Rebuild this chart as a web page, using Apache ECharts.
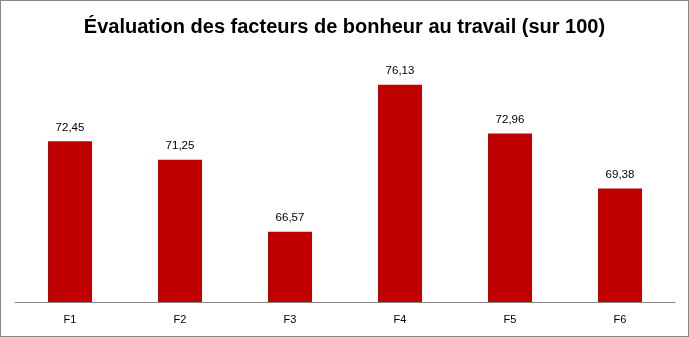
<!DOCTYPE html>
<html><head><meta charset="utf-8">
<script src="https://cdn.jsdelivr.net/npm/echarts@6/dist/echarts.min.js"></script>
<style>html,body{margin:0;padding:0;background:#fff}#c{width:689px;height:337px;box-sizing:border-box;border:1px solid #898989}</style>
</head><body><div id="c"></div>
<script>
const categories = ['F1','F2','F3','F4','F5','F6'];
const values = [72.45, 71.25, 66.57, 76.13, 72.96, 69.38];
const titleText = 'Évaluation des facteurs de bonheur au travail (sur 100)';
const chart = echarts.init(document.getElementById('c'));
chart.setOption({
  animation: false,
  title: {
    text: titleText, left: 'center', top: 11,
    textStyle: {fontFamily: 'Liberation Sans', fontWeight: 'bold', fontSize: 20, color: '#000'}
  },
  grid: {left: 14, right: 13, top: 55, bottom: 34},
  xAxis: {
    type: 'category', data: categories,
    axisLine: {lineStyle: {color: '#868686', width: 1}},
    axisTick: {show: false},
    axisLabel: {fontFamily: 'Liberation Sans', fontSize: 11, color: '#000', margin: 12}
  },
  yAxis: {
    type: 'value', min: 62, max: 78, interval: 2, show: false,
    splitLine: {show: false}
  },
  series: [{
    type: 'bar', data: values, barWidth: '40%',
    itemStyle: {color: '#C00000'},
    label: {
      show: true, position: 'top', distance: 8,
      fontFamily: 'Liberation Sans', fontSize: 11.5, color: '#000',
      formatter: p => p.value.toFixed(2).replace('.', ',')
    }
  }]
});
</script></body></html>
